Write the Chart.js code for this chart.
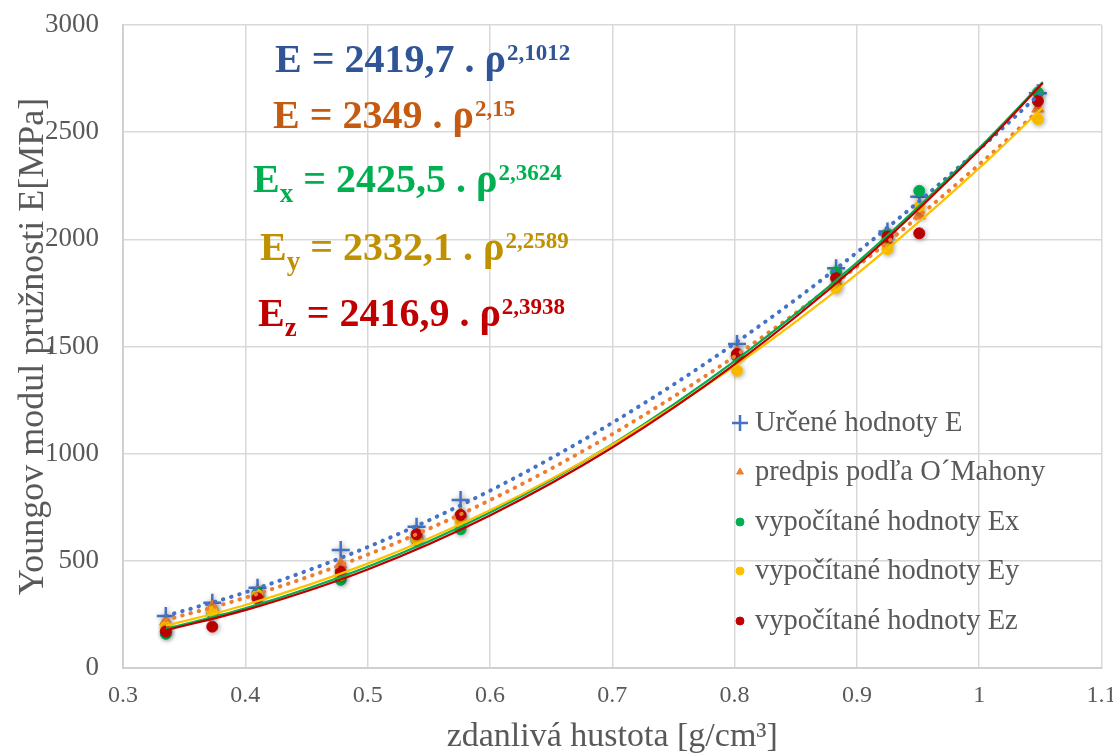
<!DOCTYPE html>
<html>
<head>
<meta charset="utf-8">
<script src="https://cdn.jsdelivr.net/npm/chart.js@4.4.1/dist/chart.umd.min.js"></script>
<style>
  html, body { margin: 0; padding: 0; background: #fff; }
</style>
</head>
<body>
<canvas id="youngChart" width="1113" height="754"></canvas>
<script>
// densities of the samples [g/cm3]
const density = [0.335, 0.373, 0.410, 0.478, 0.540, 0.576, 0.802, 0.883, 0.925, 0.951, 1.048];

// measured / computed values [MPa]
const valE = [243, 305, 375, 551, 659, 784, 1512, 1865, 2036, 2199, 2682];
const valMahony = [218, 284, 350, 485, 623, 720, 1470, 1800, 1992, 2112, 2610];
const valEx = [160, 256, 349, 411, 597, 647, 1453, 1847, 2025, 2226, 2685];
const valEy = [193, 263, 341, 434, 600, 683, 1387, 1772, 1954, 2153, 2560];
const valEz = [171, 193, 325, 449, 624, 714, 1465, 1819, 2013, 2028, 2645];

// trend lines
const trendX = [0.335, 0.4, 0.5, 0.6, 0.7, 0.8, 0.9, 1.0, 1.052];
const trendE = [243, 353, 564, 827, 1144, 1514, 1939, 2420, 2692];
const trendMahony = [224, 328, 529, 783, 1091, 1454, 1873, 2349, 2619];
const trendEx = [183, 278, 472, 726, 1044, 1432, 1891, 2426, 2734];
const trendEy = [197, 294, 487, 736, 1042, 1409, 1838, 2332, 2615];
const trendEz = [176, 270, 460, 712, 1029, 1417, 1878, 2417, 2729];

const seriesNames = ["Určené hodnoty E", "predpis podľa O´Mahony", "vypočítané hodnoty Ex", "vypočítané hodnoty Ey", "vypočítané hodnoty Ez"];

// equations written in the chart
const eqSymbol = ["E", "E", "E", "E", "E"];
const eqIndex = ["", "", "x", "y", "z"];
const eqCoef = ["2419,7", "2349", "2425,5", "2332,1", "2416,9"];
const eqPower = ["2,1012", "2,15", "2,3624", "2,2589", "2,3938"];

const xTicks = [0.3, 0.4, 0.5, 0.6, 0.7, 0.8, 0.9, 1.0, 1.1];
const yTicks = [0, 500, 1000, 1500, 2000, 2500, 3000];

const SERIF = "'Liberation Serif', 'Times New Roman', serif";
Chart.defaults.font.family = SERIF;
Chart.defaults.color = "#595959";

const pts = (xs, ys) => xs.map((x, i) => ({ x, y: ys[i] }));

const markerColors = ["#4472C4", "#ED7D31", "#00B050", "#FFC000", "#C00000"];
const textColors = ["#2F5597", "#C55A11", "#00B050", "#BF9000", "#C00000"];
const markerStyles = ["cross", "triangle", "circle", "circle", "circle"];

const values = [valE, valMahony, valEx, valEy, valEz];
const trends = [trendE, trendMahony, trendEx, trendEy, trendEz];

const datasets = [];
values.forEach((v, i) => {
  datasets.push({
    label: seriesNames[i],
    data: pts(density, v),
    pointStyle: markerStyles[i],
    pointRadius: i == 0 ? 9 : (i == 1 ? 7 : 5.5),
    pointBorderWidth: i == 0 ? 2.5 : 1,
    backgroundColor: markerColors[i],
    borderColor: markerColors[i],
    showLine: false,
    order: 10 - i,
    isMarker: true
  });
});
trends.forEach((t, i) => {
  datasets.push({
    label: "trend " + seriesNames[i],
    data: pts(trendX, t),
    showLine: true,
    pointRadius: 0,
    borderColor: markerColors[i],
    borderWidth: i < 2 ? 4 : 2.2,
    borderDash: i < 2 ? [0.5, 8] : [],
    borderCapStyle: i < 2 ? "round" : "butt",
    cubicInterpolationMode: "monotone",
    order: 5 - i
  });
});

const markerGlow = {
  id: "markerGlow",
  beforeDatasetDraw(chart, args) {
    if (!args.meta._dataset.isMarker) return;
    const ctx = chart.ctx;
    ctx.save();
    ctx.shadowColor = "rgba(0,0,0,0.35)";
    ctx.shadowBlur = 5;
    ctx.shadowOffsetX = 1;
    ctx.shadowOffsetY = 1;
  },
  afterDatasetDraw(chart, args) {
    if (!args.meta._dataset.isMarker) return;
    chart.ctx.restore();
  }
};

// equations (big bold text in the upper left)
const equations = {
  id: "equations",
  afterDatasetsDraw(chart) {
    const ctx = chart.ctx;
    const pos = [[275, 72], [273, 128], [253, 192], [260, 260], [258, 326]];
    ctx.save();
    ctx.textBaseline = "alphabetic";
    ctx.textAlign = "left";
    eqSymbol.forEach((s, i) => {
      let [x, y] = pos[i];
      ctx.fillStyle = textColors[i];
      ctx.font = "bold 40px " + SERIF;
      ctx.fillText(s, x, y);
      x += ctx.measureText(s).width;
      if (eqIndex[i]) {
        ctx.font = "bold 27px " + SERIF;
        ctx.fillText(eqIndex[i], x, y + 10);
        x += ctx.measureText(eqIndex[i]).width;
      }
      ctx.font = "bold 40px " + SERIF;
      const main = " = " + eqCoef[i] + " . ρ";
      ctx.fillText(main, x, y);
      x += ctx.measureText(main).width + 1;
      ctx.font = "bold 23px " + SERIF;
      ctx.fillText(eqPower[i], x, y - 12);
    });
    ctx.restore();
  }
};

// legend inside the plot area
const innerLegend = {
  id: "innerLegend",
  afterDraw(chart) {
    const ctx = chart.ctx;
    const rows = [423, 472, 522, 571, 621];
    ctx.save();
    chart.data.datasets.filter(d => d.isMarker).forEach((d, i) => {
      ctx.fillStyle = d.backgroundColor;
      ctx.strokeStyle = d.borderColor;
      ctx.lineWidth = i == 0 ? 2.5 : 1;
      Chart.helpers.drawPoint(ctx, {
        pointStyle: d.pointStyle,
        radius: i == 0 ? 8 : 4,
        rotation: 0,
        borderWidth: i == 0 ? 2.5 : 1
      }, 740, rows[i]);
      ctx.fillStyle = "#595959";
      ctx.font = "28.5px " + SERIF;
      ctx.textBaseline = "middle";
      ctx.fillText(d.label, 755, rows[i] + 1);
    });
    ctx.restore();
  }
};

new Chart("youngChart", {
  type: "scatter",
  data: { datasets },
  options: {
    responsive: false,
    animation: false,
    layout: { padding: { top: 25, right: 11, left: 0, bottom: 0 } },
    plugins: {
      legend: { display: false },
      tooltip: { enabled: false }
    },
    scales: {
      x: {
        type: "linear",
        min: xTicks[0],
        max: xTicks[xTicks.length - 1],
        afterBuildTicks: s => { s.ticks = xTicks.map(v => ({ value: v })); },
        afterFit: s => { s.height = 86; s.paddingLeft = 0; s.paddingRight = 0; },
        ticks: {
          font: { size: 24 },
          padding: 13,
          maxRotation: 0,
          callback: v => String(Math.round(v * 10) / 10)
        },
        grid: { color: "#d9d9d9", lineWidth: 1.5, drawTicks: false },
        border: { color: "#d0d0d0", width: 2 },
        title: {
          display: true,
          text: "zdanlivá hustota [g/cm³]",
          font: { size: 34, lineHeight: 1 },
          padding: { top: 0, bottom: 0 }
        }
      },
      y: {
        min: yTicks[0],
        max: yTicks[yTicks.length - 1],
        afterBuildTicks: s => { s.ticks = yTicks.map(v => ({ value: v })); },
        afterFit: s => { s.width = 123; s.paddingTop = 0; s.paddingBottom = 0; },
        ticks: { font: { size: 27 }, padding: 24, callback: v => String(v) },
        grid: { color: "#d9d9d9", lineWidth: 1.5, drawTicks: false },
        border: { color: "#d0d0d0", width: 2 },
        title: {
          display: true,
          text: "Youngov modul pružnosti E[MPa]",
          font: { size: 36, lineHeight: 1 },
          padding: { top: 16, bottom: 0 }
        }
      }
    }
  },
  plugins: [markerGlow, equations, innerLegend]
});
</script>
</body>
</html>
